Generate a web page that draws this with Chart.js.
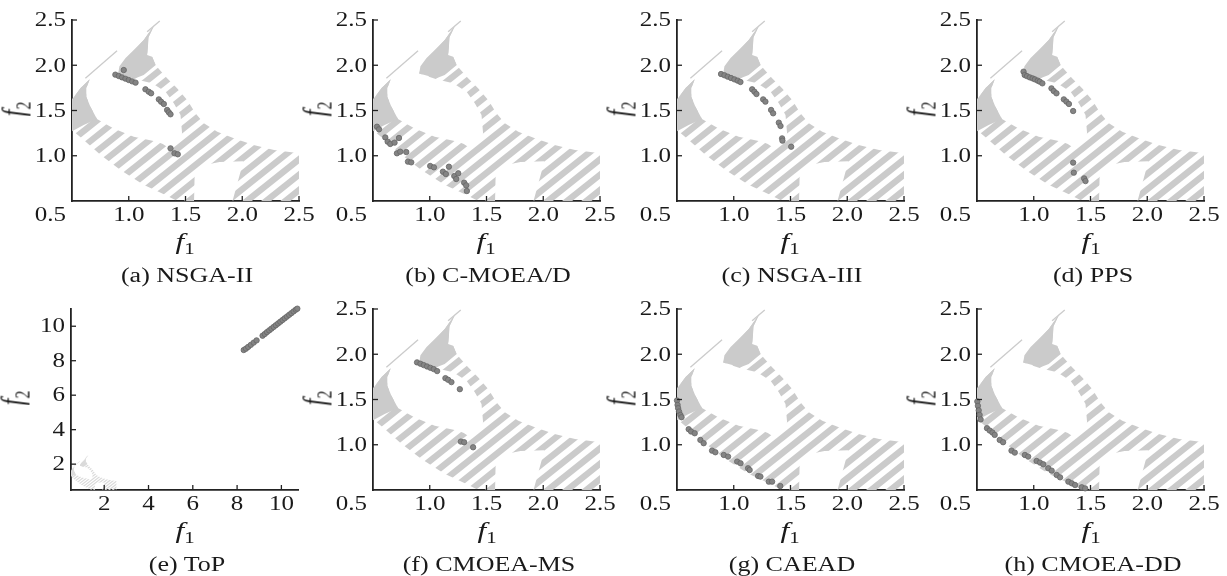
<!DOCTYPE html>
<html lang="en">
<head>
<meta charset="UTF-8">
<title>Final populations on the feasible region</title>
<script src="https://cdn.jsdelivr.net/npm/chart.js@4.4.1/dist/chart.umd.min.js"></script>
<style>
    body { margin: 0; background: #fff; }
    #fig {
        position: relative;
        width: 1227px;
        height: 576px;
        overflow: hidden;
        font-family: "Liberation Serif", "Times New Roman", serif;
        color: #1a1a1a;
    }
    #fig canvas { position: absolute; }
    .txt {
        position: absolute;
        white-space: nowrap;
        line-height: 1;
        font-size: 20px;
        transform: translate(-50%, -50%) scaleX(1.3);
    }
    .ax { font-size: 24px; }
    .ax i { font-style: italic; }
    .ax sub { font-size: 16px; vertical-align: -5px; }
    .rot { transform: translate(-50%, -50%) scaleX(1.3) rotate(-90deg); }
</style>
</head>
<body>
<div id="fig"></div>

<script>
// ---- tick values ----
const unitTicks = [0.5, 1.0, 1.5, 2.0, 2.5];
const topTicks = [2, 4, 6, 8, 10];

// ---- feasible region (f1, f2) ----
const regionOutline = [
    [0.656, 1.844], [0.574, 1.745], [0.509, 1.634], [0.45, 1.60], [0.45, 1.30], [0.50, 1.285],
    [0.603, 1.174], [0.75, 1.01], [0.93, 0.84], [1.13, 0.68], [1.30, 0.58], [1.46, 0.48],
    [1.575, 0.48], [1.58, 0.76], [1.61, 0.85], [1.68, 0.90], [1.80, 0.93], [2.01, 0.94], [1.91, 0.48],
    [2.55, 0.48], [2.55, 1.02], [2.28, 1.063], [2.10, 1.119], [1.926, 1.192], [1.78, 1.266],
    [1.662, 1.358], [1.588, 1.469], [1.515, 1.616], [1.426, 1.745], [1.338, 1.855], [1.235, 2.003],
    [1.206, 2.095], [1.162, 2.113], [1.176, 2.316], [1.226, 2.445], [1.132, 2.279], [1.044, 2.168],
    [0.97, 2.076], [0.926, 1.984], [0.907, 1.91],
    [1.059, 1.845], [1.206, 1.80], [1.324, 1.708], [1.397, 1.579], [1.456, 1.45], [1.47, 1.248],
    [1.45, 1.19], [1.40, 1.11], [1.36, 1.08], [1.30, 1.13], [1.25, 1.156],
    [1.044, 1.21], [0.867, 1.30], [0.72, 1.406], [0.662, 1.542], [0.626, 1.653], [0.626, 1.745]
];
const solidTop = [
    [0.907, 1.91], [0.918, 1.99], [0.97, 2.076], [1.044, 2.168], [1.132, 2.279], [1.226, 2.445],
    [1.176, 2.316], [1.162, 2.113], [1.206, 2.095], [1.238, 2.003], [1.132, 1.892], [1.059, 1.855]
];
const solidLeft = [
    [0.656, 1.844], [0.574, 1.745], [0.509, 1.634], [0.45, 1.60], [0.45, 1.27], [0.50, 1.27],
    [0.603, 1.34], [0.72, 1.406], [0.662, 1.542], [0.626, 1.653], [0.626, 1.745]
];
const slivers = [
    [[0.618, 1.856], [0.897, 2.16]],
    [[1.162, 2.37], [1.273, 2.49]]
];
// stripes: f2 = stripeSlope * f1 + c
const stripeSlope = 1.0;
const stripeIntercepts = [-2.05, -1.88, -1.71, -1.54, -1.37, -1.20, -1.03, -0.86, -0.69, -0.52,
    -0.35, -0.18, -0.01, 0.16, 0.33, 0.50, 0.67, 0.84, 1.01, 1.18, 1.35];
const stripeHalf = 0.045;

// ---- final populations ----
const ptsNSGAII = [[0.956, 1.947], [0.882, 1.896], [0.912, 1.881], [0.941, 1.866], [0.971, 1.852],
    [1.0, 1.837], [1.03, 1.822], [1.06, 1.808], [1.147, 1.734], [1.176, 1.708], [1.197, 1.69],
    [1.265, 1.623], [1.285, 1.597], [1.309, 1.572], [1.338, 1.506], [1.353, 1.48], [1.368, 1.458],
    [1.368, 1.082], [1.403, 1.027], [1.432, 1.016]];
const ptsCMOEAD = [[0.535, 1.321], [0.553, 1.292], [0.608, 1.203], [0.629, 1.156], [0.652, 1.13],
    [0.69, 1.145], [0.729, 1.196], [0.711, 1.027], [0.74, 1.045], [0.793, 1.041], [0.808, 0.935],
    [0.837, 0.927], [1.004, 0.887], [1.037, 0.872], [1.116, 0.824], [1.142, 0.798], [1.169, 0.879],
    [1.216, 0.776], [1.233, 0.743], [1.251, 0.806], [1.303, 0.703], [1.321, 0.673], [1.327, 0.61]];
const ptsNSGAIII = [[0.888, 1.903], [0.918, 1.889], [0.947, 1.874], [0.976, 1.859], [1.006, 1.844],
    [1.035, 1.83], [1.059, 1.815], [1.162, 1.734], [1.182, 1.708], [1.2, 1.682], [1.259, 1.623],
    [1.279, 1.598], [1.329, 1.506], [1.347, 1.469], [1.397, 1.366], [1.412, 1.329], [1.426, 1.192],
    [1.429, 1.167], [1.506, 1.10]];
const ptsPPS = [[0.91, 1.929], [0.92, 1.892], [0.94, 1.88], [0.965, 1.866], [0.99, 1.855],
    [1.01, 1.844], [1.035, 1.83], [1.053, 1.819], [1.076, 1.80], [1.156, 1.745], [1.176, 1.715],
    [1.2, 1.69], [1.265, 1.623], [1.288, 1.598], [1.31, 1.572], [1.347, 1.494], [1.347, 0.924],
    [1.353, 0.813], [1.444, 0.75], [1.456, 0.72]];
const ptsToP = [[8.30, 8.62], [8.40, 8.70], [8.50, 8.80], [8.62, 8.92], [8.75, 9.05], [8.88, 9.18],
    [9.15, 9.45], [9.25, 9.55], [9.35, 9.66], [9.45, 9.76], [9.55, 9.86], [9.65, 9.96], [9.75, 10.06],
    [9.85, 10.16], [9.95, 10.26], [10.05, 10.36], [10.15, 10.46], [10.25, 10.56], [10.35, 10.66],
    [10.45, 10.76], [10.55, 10.86], [10.65, 10.96], [10.72, 11.02]];
const ptsCMOEAMS = [[0.888, 1.91], [0.918, 1.895], [0.947, 1.88], [0.976, 1.865], [1.006, 1.85],
    [1.035, 1.836], [1.065, 1.814], [1.138, 1.736], [1.162, 1.718], [1.191, 1.692], [1.265, 1.614],
    [1.274, 1.035], [1.303, 1.028], [1.382, 0.972]];
const ptsCAEAD = [[0.50, 1.489], [0.505, 1.44], [0.51, 1.404], [0.518, 1.367], [0.53, 1.33],
    [0.54, 1.304], [0.603, 1.172], [0.624, 1.146], [0.656, 1.127], [0.706, 1.053], [0.735, 1.017],
    [0.809, 0.935], [0.838, 0.917], [0.912, 0.887], [0.95, 0.869], [1.03, 0.814], [1.06, 0.795],
    [1.126, 0.74], [1.14, 0.721], [1.215, 0.655], [1.235, 0.648], [1.309, 0.592], [1.338, 0.592],
    [1.41, 0.544]];
const ptsCMOEADD = [[0.503, 1.478], [0.508, 1.43], [0.515, 1.38], [0.523, 1.33], [0.532, 1.28],
    [0.588, 1.183], [0.612, 1.157], [0.636, 1.135], [0.656, 1.109], [0.70, 1.053], [0.73, 1.028],
    [0.804, 0.935], [0.833, 0.913], [0.922, 0.887], [0.951, 0.869], [1.025, 0.821], [1.055, 0.803],
    [1.084, 0.784], [1.128, 0.74], [1.158, 0.714], [1.202, 0.666], [1.232, 0.64], [1.305, 0.592],
    [1.335, 0.574], [1.364, 0.555], [1.423, 0.53], [1.453, 0.518]];

// ---- panel layout (plot-area corner in page pixels) ----
const panels = [
    { title: '(a) NSGA-II',  pts: ptsNSGAII,  left: 71.7,  top: 20 },
    { title: '(b) C-MOEA/D', pts: ptsCMOEAD,  left: 372.7, top: 20 },
    { title: '(c) NSGA-III', pts: ptsNSGAIII, left: 676.7, top: 20 },
    { title: '(d) PPS',      pts: ptsPPS,     left: 977.3, top: 20 },
    { title: '(e) ToP',      pts: ptsToP,     left: 71.2,  top: 309.3, wide: true },
    { title: '(f) CMOEA-MS', pts: ptsCMOEAMS, left: 373.3, top: 309.3 },
    { title: '(g) CAEAD',    pts: ptsCAEAD,   left: 676.7, top: 309.3 },
    { title: '(h) CMOEA-DD', pts: ptsCMOEADD, left: 977.3, top: 309.3 }
];
const PW = 227, PH = 181, PADL = 72, PADT = 20, PADR = 22, PADB = 87;
const STRETCH = 1.25;

const regionPlugin = {
    id: 'region',
    beforeDatasetsDraw(chart, args, opts) {
        const { ctx, chartArea: a, scales: { x, y } } = chart;
        const px = p => [x.getPixelForValue(p[0]), y.getPixelForValue(p[1])];
        const poly = pts => {
            ctx.beginPath();
            pts.forEach((p, i) => {
                const [u, v] = px(p);
                if (i) ctx.lineTo(u, v); else ctx.moveTo(u, v);
            });
            ctx.closePath();
        };
        ctx.save();
        ctx.beginPath();
        ctx.rect(a.left, a.top, a.right - a.left, a.bottom - a.top);
        ctx.clip();
        ctx.fillStyle = opts.color;
        ctx.strokeStyle = opts.color;

        ctx.save();
        poly(regionOutline);
        ctx.clip();
        stripeIntercepts.forEach(c => {
            poly([[-1, -stripeSlope + c - stripeHalf], [4, 4 * stripeSlope + c - stripeHalf],
                  [4, 4 * stripeSlope + c + stripeHalf], [-1, -stripeSlope + c + stripeHalf]]);
            ctx.fill();
        });
        ctx.restore();

        poly(solidTop); ctx.fill();
        poly(solidLeft); ctx.fill();

        ctx.lineWidth = opts.sliver;
        slivers.forEach(s => {
            const [u0, v0] = px(s[0]), [u1, v1] = px(s[1]);
            ctx.beginPath(); ctx.moveTo(u0, v0); ctx.lineTo(u1, v1); ctx.stroke();
        });
        ctx.restore();
    }
};

const axisPlugin = {
    id: 'axisDecor',
    afterDraw(chart, args, o) {
        const { ctx, chartArea: a, scales: { x, y } } = chart;
        const txt = (s, u, v, align) => {
            ctx.save();
            ctx.translate(u, v);
            ctx.scale(STRETCH, 1);
            ctx.textAlign = align;
            ctx.textBaseline = 'middle';
            ctx.fillText(s, 0, 0);
            ctx.restore();
        };
        ctx.save();
        ctx.strokeStyle = '#222';
        ctx.fillStyle = '#1a1a1a';
        ctx.lineWidth = 1.3;
        ctx.font = '20px "Liberation Serif", "Times New Roman", serif';
        o.xTicks.forEach(v => {
            const u = x.getPixelForValue(v);
            if (v > x.min) {
                ctx.beginPath(); ctx.moveTo(u, a.bottom); ctx.lineTo(u, a.bottom - 5); ctx.stroke();
                txt(o.fmt(v), u, a.bottom + 15, 'center');
            }
        });
        o.yTicks.forEach(v => {
            const w = y.getPixelForValue(v);
            if (v > y.min) {
                ctx.beginPath(); ctx.moveTo(a.left, w); ctx.lineTo(a.left + 5, w); ctx.stroke();
                txt(o.fmt(v), a.left - 6, w + 1, 'right');
            } else {
                txt(o.fmt(v), a.left - 6, w + 15, 'right');
            }
        });
        ctx.restore();
    }
};

const fig = document.getElementById('fig');

function addText(html, cls, cx, cy) {
    const d = document.createElement('div');
    d.className = 'txt ' + cls;
    d.innerHTML = html;
    d.style.left = cx + 'px';
    d.style.top = cy + 'px';
    fig.appendChild(d);
}

panels.forEach(p => {
    const cv = document.createElement('canvas');
    cv.width = PADL + PW + PADR;
    cv.height = PADT + PH + PADB;
    cv.style.left = (p.left - PADL) + 'px';
    cv.style.top = (p.top - PADT) + 'px';
    fig.appendChild(cv);

    const xr = p.wide ? [0.5, 10.75] : [0.5, 2.5];
    const yr = p.wide ? [0.5, 11.0] : [0.5, 2.5];

    new Chart(cv, {
        type: 'scatter',
        data: {
            datasets: [{
                data: p.pts.map(([f1, f2]) => ({ x: f1, y: f2 })),
                pointRadius: 2.7,
                backgroundColor: '#848484',
                borderColor: '#666',
                borderWidth: 0.8,
                clip: false
            }]
        },
        options: {
            responsive: false,
            animation: false,
            events: [],
            layout: { padding: { left: PADL, top: PADT, right: PADR, bottom: PADB } },
            plugins: {
                legend: { display: false },
                tooltip: { enabled: false },
                region: { color: p.wide ? '#dadada' : '#cbcbcb', sliver: p.wide ? 0.6 : 1.3 },
                axisDecor: {
                    xTicks: p.wide ? topTicks : unitTicks,
                    yTicks: p.wide ? topTicks : unitTicks,
                    fmt: p.wide ? (v => String(v)) : (v => v.toFixed(1))
                }
            },
            scales: {
                x: {
                    type: 'linear', min: xr[0], max: xr[1],
                    grid: { display: false },
                    border: { display: true, color: '#222', width: 1.8 },
                    ticks: { display: false },
                    afterFit: s => { s.height = 0; }
                },
                y: {
                    type: 'linear', min: yr[0], max: yr[1],
                    grid: { display: false },
                    border: { display: true, color: '#222', width: 1.8 },
                    ticks: { display: false },
                    afterFit: s => { s.width = 0; }
                }
            }
        },
        plugins: [regionPlugin, axisPlugin]
    });

    const cx = p.left + PW / 2;
    addText('<i>f</i><sub>1</sub>', 'ax', cx, p.top + 223);
    addText('<i>f</i><sub>2</sub>', 'ax rot', p.left - 56, p.top + PH / 2 - 2);
    addText(p.title, '', cx + 2, p.top + 255);
});
</script>
</body>
</html>
